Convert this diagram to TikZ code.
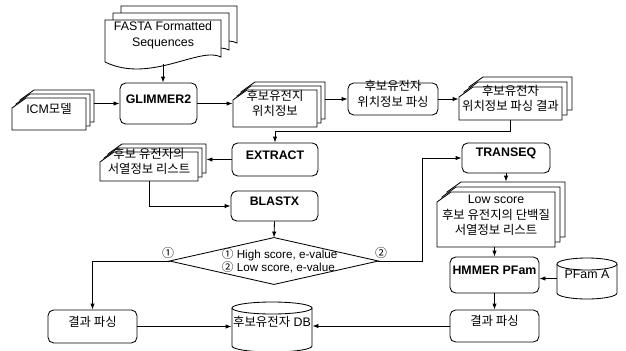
\documentclass[tikz,border=0pt]{standalone}
\usepackage{fontspec}
\setmainfont{Liberation Sans}
\newfontfamily\kr{Noto Sans CJK KR}
\usetikzlibrary{arrows.meta,fit,calc}

% stacked cards with a cut corner: name, x1, y1, x2, y2, offset, text
\newcommand{\cardstack}[7]{%
  \foreach \k in {2,1,0}
    \filldraw[fill=white] ({#2+14+\k*#6},{#3-\k*#6}) -- ({#4+\k*#6},{#3-\k*#6})
      -- ({#4+\k*#6},{#5-\k*#6}) -- ({#2+\k*#6},{#5-\k*#6})
      -- ({#2+\k*#6},{#3+10-\k*#6}) -- cycle;
  \node[fit={(#2,#3) (#4,#5)}] (#1) {#7};
}
% database drum: name, x1, y1, x2, y2, text
\newcommand{\drum}[6]{%
  \filldraw[fill=white] (#2,{#3+6}) -- (#2,#5)
    arc[start angle=180,end angle=360,x radius={(#4-#2)*0.0125cm},y radius=0.15cm]
    -- (#4,{#3+6});
  \draw[fill=white] ({(#2+#4)/2},{#3+6}) ellipse[x radius={(#4-#2)*0.0125cm},y radius=0.15cm];
  \node[fit={(#2,{#3+6}) (#4,#5)}] (#1) {#6};
}

\tikzset{
  proc/.style={draw,fill=white,rounded corners=4pt,font=\bfseries\fontsize{8.8}{10.5}\selectfont},
  procK/.style={draw,fill=white,rounded corners=4pt},
  arr/.style={-{Latex[length=1.5mm,width=1.1mm]}}
}

\begin{document}
\begin{tikzpicture}[x=0.025cm,y=-0.025cm,line width=0.6pt,
  every node/.style={font=\fontsize{8.8}{11}\selectfont,align=center,inner sep=0pt}]
\useasboundingbox (0,0) rectangle (626,350);

% input documents
\foreach \k in {2,1,0}
  \filldraw[fill=white] ({105+8*\k},{20-7*\k}) -- ({221+8*\k},{20-7*\k})
    -- ({221+8*\k},{57-7*\k}) .. controls ({200+8*\k},{46-7*\k}) and ({150+8*\k},{84-7*\k})
    .. ({105+8*\k},{62-7*\k}) -- cycle;
\node[fit={(105,16) (221,64)}] (fasta) {FASTA Formatted\\Sequences};

\cardstack{icm}{12}{98}{86}{130}{4}{ICM{\kr 모델}}
\node[proc,fit={(120,83) (197,124)}] (glim) {GLIMMER2};
\cardstack{cand}{233}{90}{317}{127}{4}{\kr 후보유전지\\위치정보}
\node[procK,fit={(348,83) (438,115)}] (parse) {\kr 후보유전자\\위치정보 파싱};
\cardstack{res}{459}{87}{562}{120}{5}{\kr 후보유전자\\위치정보 파싱 결과}

\node[proc,fit={(232,143) (318,176)}] (extr) {EXTRACT};
\cardstack{list}{100}{152}{198}{181}{4}{\kr 후보 유전자의\\서열정보 리스트}
\node[proc,fit={(231,191) (318,221)}] (blast) {BLASTX};

% decision
\node[fit={(170,238) (378,284)}] (dec) {};
\draw (dec.north) -- (dec.east) -- (dec.south) -- (dec.west) -- cycle;
\node[align=left,font=\fontsize{8.3}{9.5}\selectfont] (dectxt) at ([xshift=4]dec.center) {{\kr ①} High score, e-value\\{\kr ②} Low score, e-value};
\node[font=\kr\fontsize{8.5}{10}\selectfont] (lab1) at (168,253) {①};
\node[font=\kr\fontsize{8.5}{10}\selectfont] (lab2) at (381,253) {②};

\node[proc,fit={(462,143) (550,173)}] (trans) {TRANSEQ};
\cardstack{low}{437}{192}{555}{247}{5}{Low score\\{\kr 후보 유전지의 단백질}\\{\kr 서열정보 리스트}}
\node[proc,fit={(450,257) (539,293)}] (hmm) {HMMER PFam};
\drum{pfam}{557}{258}{617}{293}{PFam A}

\node[procK,fit={(48,310) (137,343)}] (res1) {\kr 결과 파싱};
\node[procK,fit={(450,310) (539,342)}] (res2) {\kr 결과 파싱};
\drum{db}{232}{302}{312}{346}{{\kr 후보유전자} DB}

% connectors
\draw[arr] (fasta.south) -- (fasta.south |- glim.north);
\draw[arr] ($(icm.east |- glim.west)+(8,0)$) -- (glim.west);
\draw[arr] (glim.east) -- (glim.east -| cand.west);
\draw[arr] ($(cand.east |- parse.west)+(8,0)$) -- (parse.west);
\draw[arr] (parse.east) -- (parse.east -| res.west);
\draw[arr] (res.south) -- ++(0,11) -| (extr.north);
\draw[arr] (extr.west) -- ($(extr.west -| list.east)+(8,0)$);
\draw[arr] (list.south) |- (blast.west);
\draw[arr] (blast.south) -- (dec.north);
\draw[arr] (dec.west) -| (res1.north);
\draw[arr] (dec.east) -- ++(44,0) |- (trans.west);
\draw[arr] (trans.south) -- ($(trans.south |- low.north)+(0,-10)$);
\draw[arr] (low.south -| hmm.north) -- (hmm.north);
\draw[arr] (pfam.west) -- (pfam.west -| hmm.east);
\draw[arr] (hmm.south) -- (res2.north);
\draw[arr] (res1.east) -- (res1.east -| db.west);
\draw[arr] (res2.west) -- (res2.west -| db.east);
\end{tikzpicture}
\end{document}
